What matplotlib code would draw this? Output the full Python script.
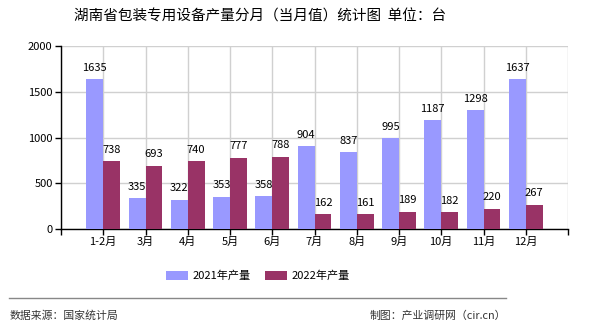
import matplotlib.pyplot as plt
import numpy as np

plt.rcParams['font.family'] = ['Noto Sans CJK SC', 'DejaVu Sans']

# data
months = ['1-2月', '3月', '4月', '5月', '6月', '7月', '8月', '9月', '10月', '11月', '12月']
output_2021 = [1635, 335, 322, 353, 358, 904, 837, 995, 1187, 1298, 1637]
output_2022 = [738, 693, 740, 777, 788, 162, 161, 189, 182, 220, 267]
yticks = [0, 500, 1000, 1500, 2000]

blue = '#9999FF'
red = '#993366'

fig = plt.figure(figsize=(5.9, 3.3), dpi=100)
ax = fig.add_axes([61 / 590, 1 - 229 / 330, 507 / 590, 183 / 330])

x = np.arange(1, len(months) + 1)
w = 0.4
b1 = ax.bar(x - w / 2, output_2021, w, color=blue, label='2021年产量', zorder=3)
b2 = ax.bar(x + w / 2, output_2022, w, color=red, label='2022年产量', zorder=3)

# value labels above bars
for bars in (b1, b2):
    for rect in bars:
        h = rect.get_height()
        ax.text(rect.get_x() + rect.get_width() / 2, h + 70, str(int(h)),
                ha='center', va='bottom', fontsize=8)

ax.set_xlim(0, len(months) + 1)
ax.set_ylim(0, 2000)
ax.set_yticks(yticks)
ax.set_yticklabels([str(v) for v in yticks], fontsize=8)
ax.set_xticks(np.arange(0, len(months) + 2))
ax.set_xticklabels([''] + months + [''], fontsize=8)
ax.grid(True, color='#d0d0d0', linewidth=1, zorder=0)
ax.tick_params(length=4, width=1, pad=2)
for s in ['top', 'right']:
    ax.spines[s].set_visible(False)
ax.spines['left'].set_linewidth(1)
ax.spines['bottom'].set_linewidth(1)

fig.text(260 / 590, 1 - 17 / 330, '湖南省包装专用设备产量分月（当月值）统计图  单位：台',
         ha='center', va='center', fontsize=10.5)

fig.legend(handles=[b1, b2], loc='center', bbox_to_anchor=(258 / 590, 1 - 276 / 330),
           ncol=2, frameon=False, fontsize=8, handlelength=2, handleheight=0.8,
           columnspacing=1.3, handletextpad=0.4)

fig.add_artist(plt.Line2D([9 / 590, 506 / 590], [1 - 298 / 330, 1 - 298 / 330],
                          color='#888888', linewidth=1))
fig.text(10 / 590, 1 - 316 / 330, '数据来源：国家统计局', ha='left', va='center',
         fontsize=7.8, color='#333333')
fig.text(506 / 590, 1 - 316 / 330, '制图：产业调研网（cir.cn）', ha='right', va='center',
         fontsize=7.8, color='#333333')

fig.savefig('out.png', dpi=100)
